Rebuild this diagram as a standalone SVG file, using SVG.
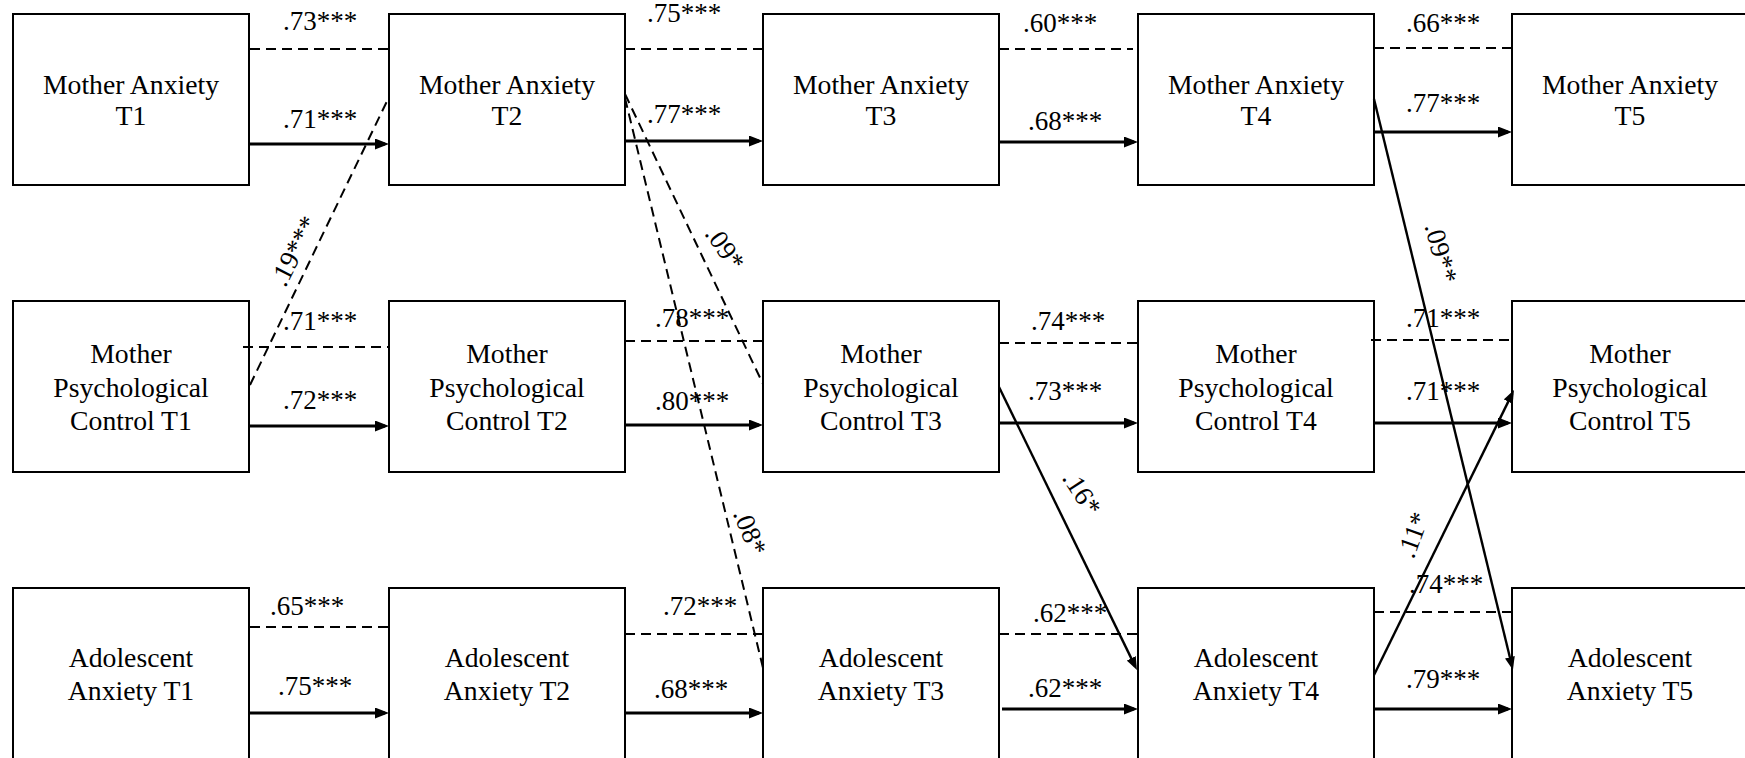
<svg xmlns="http://www.w3.org/2000/svg" width="1745" height="758" viewBox="0 0 1745 758">
<style>
  .box { fill: #fff; stroke: #000; stroke-width: 2; }
  .t { font-family: "Liberation Serif", "Times New Roman", serif; font-size: 27.7px; fill: #000; text-anchor: middle; }
  .lbl { font-family: "Liberation Serif", "Times New Roman", serif; font-size: 27px; fill: #000; text-anchor: middle; }
  .arr { stroke: #000; stroke-width: 3; fill: none; marker-end: url(#ah); }
  .darr { stroke: #000; stroke-width: 2.4; fill: none; marker-end: url(#ahs); }
  .dash { stroke: #000; stroke-width: 2; fill: none; stroke-dasharray: 10 6; }
</style>
<defs>
  <marker id="ah" markerUnits="userSpaceOnUse" markerWidth="14" markerHeight="11" refX="10" refY="5.5" orient="auto">
    <path d="M0,0 L14,5.5 L0,11 z" fill="#000"/>
  </marker>
  <marker id="ahs" markerUnits="userSpaceOnUse" markerWidth="13" markerHeight="10" refX="9" refY="5" orient="auto">
    <path d="M0,0 L13,5 L0,10 z" fill="#000"/>
  </marker>
</defs>
<rect width="1745" height="758" fill="#fff"/>

<g id="ma1"><rect class="box" x="13" y="14" width="236" height="171"/><text class="t" x="131" y="94">Mother Anxiety</text><text class="t" x="131" y="125">T1</text></g>
<g id="ma2"><rect class="box" x="389" y="14" width="236" height="171"/><text class="t" x="507" y="94">Mother Anxiety</text><text class="t" x="507" y="125">T2</text></g>
<g id="ma3"><rect class="box" x="763" y="14" width="236" height="171"/><text class="t" x="881" y="94">Mother Anxiety</text><text class="t" x="881" y="125">T3</text></g>
<g id="ma4"><rect class="box" x="1138" y="14" width="236" height="171"/><text class="t" x="1256" y="94">Mother Anxiety</text><text class="t" x="1256" y="125">T4</text></g>
<g id="ma5"><rect class="box" x="1512" y="14" width="236" height="171"/><text class="t" x="1630" y="94">Mother Anxiety</text><text class="t" x="1630" y="125">T5</text></g>

<g id="mpc1"><rect class="box" x="13" y="301" width="236" height="171"/><text class="t" x="131" y="363">Mother</text><text class="t" x="131" y="397">Psychological</text><text class="t" x="131" y="430">Control T1</text></g>
<g id="mpc2"><rect class="box" x="389" y="301" width="236" height="171"/><text class="t" x="507" y="363">Mother</text><text class="t" x="507" y="397">Psychological</text><text class="t" x="507" y="430">Control T2</text></g>
<g id="mpc3"><rect class="box" x="763" y="301" width="236" height="171"/><text class="t" x="881" y="363">Mother</text><text class="t" x="881" y="397">Psychological</text><text class="t" x="881" y="430">Control T3</text></g>
<g id="mpc4"><rect class="box" x="1138" y="301" width="236" height="171"/><text class="t" x="1256" y="363">Mother</text><text class="t" x="1256" y="397">Psychological</text><text class="t" x="1256" y="430">Control T4</text></g>
<g id="mpc5"><rect class="box" x="1512" y="301" width="236" height="171"/><text class="t" x="1630" y="363">Mother</text><text class="t" x="1630" y="397">Psychological</text><text class="t" x="1630" y="430">Control T5</text></g>

<g id="aa1"><rect class="box" x="13" y="588" width="236" height="172"/><text class="t" x="131" y="667">Adolescent</text><text class="t" x="131" y="700">Anxiety T1</text></g>
<g id="aa2"><rect class="box" x="389" y="588" width="236" height="172"/><text class="t" x="507" y="667">Adolescent</text><text class="t" x="507" y="700">Anxiety T2</text></g>
<g id="aa3"><rect class="box" x="763" y="588" width="236" height="172"/><text class="t" x="881" y="667">Adolescent</text><text class="t" x="881" y="700">Anxiety T3</text></g>
<g id="aa4"><rect class="box" x="1138" y="588" width="236" height="172"/><text class="t" x="1256" y="667">Adolescent</text><text class="t" x="1256" y="700">Anxiety T4</text></g>
<g id="aa5"><rect class="box" x="1512" y="588" width="236" height="172"/><text class="t" x="1630" y="667">Adolescent</text><text class="t" x="1630" y="700">Anxiety T5</text></g>

<g id="connectors">
  <!-- Row 1 -->
  <line class="dash" x1="250" y1="49" x2="389" y2="49"/>
  <text class="lbl" x="320" y="30">.73***</text>
  <line class="arr" x1="250" y1="144" x2="385" y2="144"/>
  <text class="lbl" x="320" y="128">.71***</text>
  <line class="dash" x1="625" y1="49" x2="763" y2="49"/>
  <text class="lbl" x="684" y="22">.75***</text>
  <line class="arr" x1="625" y1="141" x2="759" y2="141"/>
  <text class="lbl" x="684" y="123">.77***</text>
  <line class="dash" x1="999" y1="49" x2="1133" y2="49"/>
  <text class="lbl" x="1060" y="32">.60***</text>
  <line class="arr" x1="999" y1="142" x2="1134" y2="142"/>
  <text class="lbl" x="1065" y="130">.68***</text>
  <line class="dash" x1="1374" y1="48" x2="1512" y2="48"/>
  <text class="lbl" x="1443" y="32">.66***</text>
  <line class="arr" x1="1374" y1="132" x2="1508" y2="132"/>
  <text class="lbl" x="1443" y="112">.77***</text>

  <!-- Row 2 -->
  <line class="dash" x1="243" y1="347" x2="389" y2="347"/>
  <text class="lbl" x="320" y="330">.71***</text>
  <line class="arr" x1="250" y1="426" x2="385" y2="426"/>
  <text class="lbl" x="320" y="409">.72***</text>
  <line class="dash" x1="625" y1="341" x2="766" y2="341"/>
  <text class="lbl" x="692" y="327">.78***</text>
  <line class="arr" x1="625" y1="425" x2="759" y2="425"/>
  <text class="lbl" x="692" y="410">.80***</text>
  <line class="dash" x1="999" y1="343" x2="1141" y2="343"/>
  <text class="lbl" x="1068" y="330">.74***</text>
  <line class="arr" x1="999" y1="423" x2="1134" y2="423"/>
  <text class="lbl" x="1065" y="400">.73***</text>
  <line class="dash" x1="1371" y1="340" x2="1512" y2="340"/>
  <text class="lbl" x="1443" y="327">.71***</text>
  <line class="arr" x1="1374" y1="423" x2="1508" y2="423"/>
  <text class="lbl" x="1443" y="400">.71***</text>

  <!-- Row 3 -->
  <line class="dash" x1="250" y1="627" x2="389" y2="627"/>
  <text class="lbl" x="307" y="615">.65***</text>
  <line class="arr" x1="250" y1="713" x2="385" y2="713"/>
  <text class="lbl" x="315" y="695">.75***</text>
  <line class="dash" x1="625" y1="634" x2="766" y2="634"/>
  <text class="lbl" x="700" y="615">.72***</text>
  <line class="arr" x1="625" y1="713" x2="759" y2="713"/>
  <text class="lbl" x="691" y="698">.68***</text>
  <line class="dash" x1="999" y1="634" x2="1141" y2="634"/>
  <text class="lbl" x="1070" y="622">.62***</text>
  <line class="arr" x1="1002" y1="709" x2="1134" y2="709"/>
  <text class="lbl" x="1065" y="697">.62***</text>
  <line class="dash" x1="1374" y1="612" x2="1512" y2="612"/>
  <text class="lbl" x="1446" y="593">.74***</text>
  <line class="arr" x1="1374" y1="709" x2="1508" y2="709"/>
  <text class="lbl" x="1443" y="688">.79***</text>

  <!-- Cross-lagged dashed -->
  <line class="dash" x1="250" y1="385" x2="389" y2="97" stroke-dasharray="9 5"/>
  <text class="lbl" transform="translate(294,251) rotate(-63)" x="0" y="9">.19***</text>
  <line class="dash" x1="625" y1="94" x2="763" y2="384" stroke-dasharray="9 5"/>
  <text class="lbl" transform="translate(725,248) rotate(55)" x="0" y="9">.09*</text>
  <line class="dash" x1="625" y1="98" x2="763" y2="668" stroke-dasharray="9 5"/>
  <text class="lbl" transform="translate(750,532) rotate(68)" x="0" y="9">.08*</text>

  <!-- Cross-lagged solid -->
  <line class="darr" x1="999" y1="387" x2="1135.2" y2="666.4"/>
  <text class="lbl" transform="translate(1082,493) rotate(57)" x="0" y="9">.16*</text>
  <line class="darr" x1="1374" y1="99" x2="1512" y2="666"/>
  <text class="lbl" transform="translate(1441,253) rotate(75)" x="0" y="9">.09**</text>
  <line class="darr" x1="1374" y1="675" x2="1512.2" y2="393.6"/>
  <text class="lbl" transform="translate(1413,535) rotate(-70)" x="0" y="9">.11*</text>
</g>
</svg>
